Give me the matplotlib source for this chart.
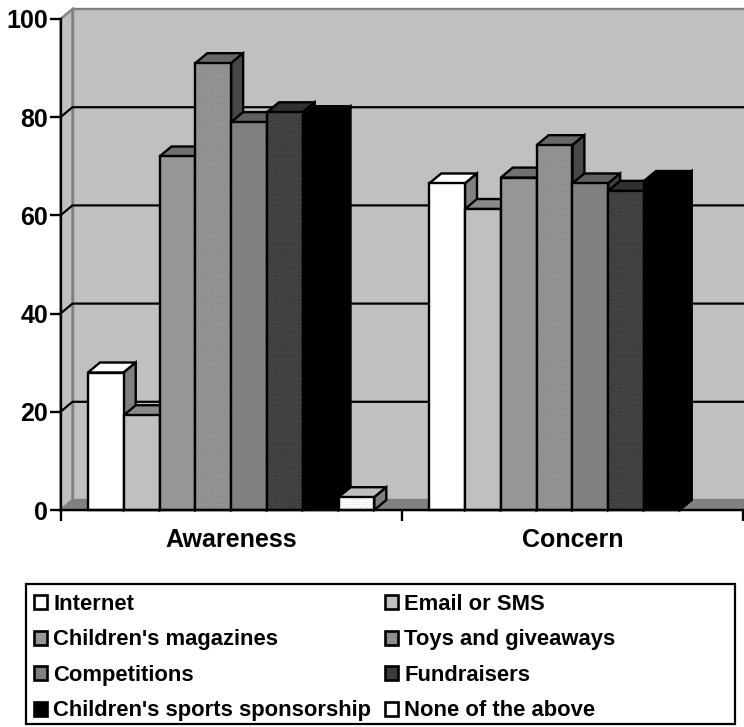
import numpy as np
import matplotlib
matplotlib.use("Agg")
import matplotlib.pyplot as plt
from matplotlib.patches import Polygon, Patch, Rectangle

plt.rcParams['font.family'] = ['Liberation Sans', 'DejaVu Sans']
plt.rcParams['font.weight'] = 'bold'
plt.rcParams['hatch.linewidth'] = 0.3

categories = ['Awareness', 'Concern']
series = ['Internet', 'Email or SMS', "Children's magazines", 'Toys and giveaways',
          'Competitions', 'Fundraisers', "Children's sports sponsorship", 'None of the above']
awareness = [28, 19.3, 72, 91, 79, 81, 80.2, 2.6]
concern = [66.5, 61.3, 67.7, 74.3, 66.5, 65, 67, 0]
values = [awareness, concern]
yticks = [0, 20, 40, 60, 80, 100]

front_colors = ['#ffffff', '#c0c0c0', '#969696', '#8e8e8e', '#808080', '#3c3c3c', '#000000', '#ffffff']
top_colors = ['#ffffff', '#8a8a8a', '#707070', '#686868', '#606060', '#303030', '#000000', '#c0c0c0']
side_colors = ['#808080', '#606060', '#505050', '#484848', '#404040', '#202020', '#000000', '#808080']
hatch_colors = [None, None, None, '#a6a6a6', None, '#5e5e5e', None, '#c8c8c8']

W, H = 744, 727
fig = plt.figure(figsize=(W / 100, H / 100), dpi=100)
ax = fig.add_axes([60.5 / W, (H - 510) / H, (743 - 60.5) / W, (510 - 19) / H])
ax.set_xlim(0, 2)
ax.set_ylim(0, 100)

# depth of the fake 3d box, in data units
dx = 12 / 341.25
dy = 10 / 4.91
bar_w = 0.1049
gap = 0.0804
grey = '#808080'
wall = '#c0c0c0'
edge_lw = 1.7


def poly(pts, **kw):
    p = Polygon(pts, closed=True, clip_on=False, **kw)
    ax.add_patch(p)
    return p


# walls and floor
poly([(dx, dy), (2.1, dy), (2.1, 100 + dy), (dx, 100 + dy)], facecolor=wall, edgecolor=grey, lw=1.7, zorder=1)
poly([(0, 0), (dx, dy), (dx, 100 + dy), (0, 100)], facecolor=wall, edgecolor=grey, lw=1.7, zorder=1)
poly([(0, 0), (2.1, 0), (2.1, dy), (dx, dy)], facecolor=grey, edgecolor=grey, lw=1, zorder=1)

# gridlines run along the side wall and the back wall
for t in yticks[1:-1]:
    ax.plot([0, dx, 2.1], [t, t + dy, t + dy], color='black', lw=1.6, zorder=2, clip_on=False)

# bars, left to right so each one covers the side of the previous
z = 3
for g in range(len(categories)):
    for i in range(len(series)):
        v = values[g][i]
        if v <= 0:
            continue
        x0 = g + gap + i * bar_w
        x1 = x0 + bar_w
        poly([(x0, v), (x1, v), (x1 + dx, v + dy), (x0 + dx, v + dy)],
             facecolor=top_colors[i], edgecolor='black', lw=edge_lw, zorder=z)
        poly([(x1, 0), (x1 + dx, dy), (x1 + dx, v + dy), (x1, v)],
             facecolor=side_colors[i], edgecolor='black', lw=edge_lw, zorder=z)
        poly([(x0, 0), (x1, 0), (x1, v), (x0, v)], facecolor=front_colors[i], edgecolor='none', zorder=z)
        if hatch_colors[i]:
            poly([(x0, 0), (x1, 0), (x1, v), (x0, v)], facecolor='none', edgecolor=hatch_colors[i],
                 hatch='.......', lw=0, zorder=z)
        poly([(x0, 0), (x1, 0), (x1, v), (x0, v)], facecolor='none', edgecolor='black', lw=edge_lw, zorder=z)
        z += 1

for s in ['top', 'right']:
    ax.spines[s].set_visible(False)
for s in ['left', 'bottom']:
    ax.spines[s].set_linewidth(1.7)
    ax.spines[s].set_zorder(100)

ax.set_yticks(yticks)
ax.set_yticklabels([str(t) for t in yticks], fontsize=18, fontweight='bold')
ax.set_xticks([0, 1, 2])
ax.set_xticklabels([])
ax.set_xticks([0.5, 1.5], labels=categories, minor=True, fontsize=18, fontweight='bold')
ax.tick_params(axis='x', which='minor', length=0, pad=13)
ax.tick_params(axis='x', which='major', length=8, width=1.7)
ax.tick_params(axis='y', length=8, width=1.7, pad=1)

handles = []
for i, name in enumerate(series):
    handles.append(Patch(facecolor=front_colors[i], edgecolor='black', lw=1.9, label=name))

# box is its own rectangle so the second column can sit where it does in the original
fig.add_artist(Rectangle((26 / W, (H - 724) / H), (735 - 26) / W, (724 - 584) / H, transform=fig.transFigure,
                         facecolor='white', edgecolor='black', lw=1.6))

# legend fills columns first, reference reads across rows
order = [0, 2, 4, 6, 1, 3, 5, 7]
leg = fig.legend([handles[i] for i in order], [series[i] for i in order],
                 ncols=2, loc='upper left', bbox_to_anchor=(34 / W, (H - 594) / H),
                 fontsize=15.8, frameon=False, borderpad=0, labelspacing=0.66,
                 handlelength=0.6, handleheight=0.6, handletextpad=0.28, borderaxespad=0, columnspacing=0.62)

fig.savefig('out.png', dpi=100)
